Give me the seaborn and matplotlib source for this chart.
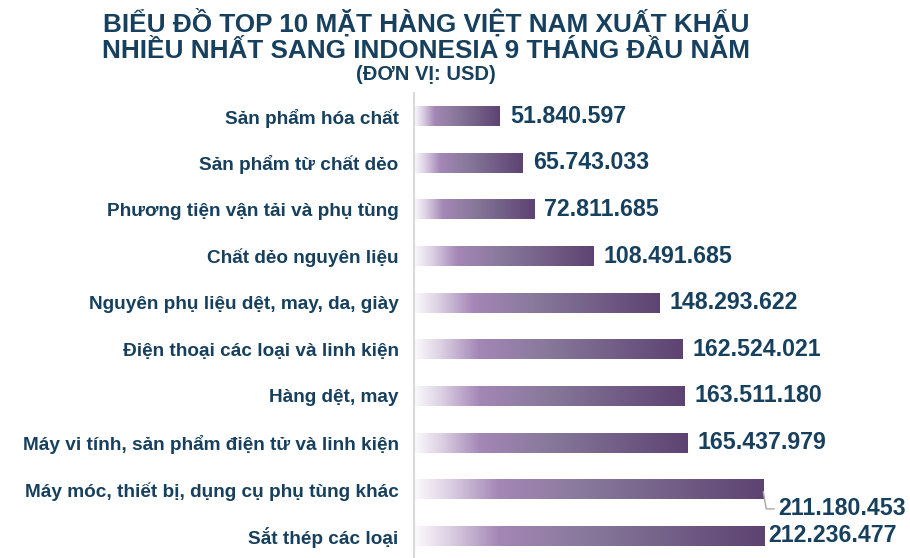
import numpy as np
import pandas as pd
import matplotlib
matplotlib.use("Agg")
import matplotlib.pyplot as plt
import seaborn as sns
from matplotlib.colors import LinearSegmentedColormap

categories = [
    "Sản phẩm hóa chất",
    "Sản phẩm từ chất dẻo",
    "Phương tiện vận tải và phụ tùng",
    "Chất dẻo nguyên liệu",
    "Nguyên phụ liệu dệt, may, da, giày",
    "Điện thoại các loại và linh kiện",
    "Hàng dệt, may",
    "Máy vi tính, sản phẩm điện tử và linh kiện",
    "Máy móc, thiết bị, dụng cụ phụ tùng khác",
    "Sắt thép các loại",
]
values = [51840597, 65743033, 72811685, 108491685, 148293622,
          162524021, 163511180, 165437979, 211180453, 212236477]
value_labels = ["51.840.597", "65.743.033", "72.811.685", "108.491.685", "148.293.622",
                "162.524.021", "163.511.180", "165.437.979", "211.180.453", "212.236.477"]
title_lines = ["BIỂU ĐỒ TOP 10 MẶT HÀNG VIỆT NAM XUẤT KHẨU",
               "NHIỀU NHẤT SANG INDONESIA 9 THÁNG ĐẦU NĂM"]
subtitle = "(ĐƠN VỊ: USD)"

df = pd.DataFrame({"cat": categories, "val": values})

sns.set_theme(style="white")
plt.rcParams["font.family"] = ["Liberation Sans", "DejaVu Sans"]

W, H = 910, 558
fig = plt.figure(figsize=(W / 100, H / 100), dpi=100)
ax_left, ax_right = 414, 910
ax_top, ax_bot = 92.7, 559.3
ax = fig.add_axes([ax_left / W, 1 - ax_bot / H, (ax_right - ax_left) / W, (ax_bot - ax_top) / H])

sns.barplot(data=df, y="cat", x="val", orient="h", ax=ax, width=0.43,
            color="#6a4f80", saturation=1)

xmax = 212236477 * (ax_right - ax_left) / (765 - ax_left)

cmap = LinearSegmentedColormap.from_list("g", [
    (0.0, "#fbfafc"), (0.10, "#dcd0e4"), (0.24, "#a487b6"),
    (0.50, "#87789a"), (1.0, "#5d4372")])
grad = np.linspace(0, 1, 256).reshape(1, -1)
for p in ax.patches:
    x0, y0 = p.get_x(), p.get_y()
    w, h = p.get_width(), p.get_height()
    im = ax.imshow(grad, cmap=cmap, aspect="auto", extent=(x0, x0 + w, y0 + h, y0),
                   zorder=2, interpolation="bicubic")
    im.set_clip_path(p)
    p.set_facecolor("none")
    p.set_edgecolor("none")
ax.set_xlim(0, xmax)
ax.set_ylim(9.5, -0.5)

label_col = "#17405e"
ax.set_xlabel("")
ax.set_ylabel("")
ax.set_xticks([])
ax.tick_params(axis="y", length=0, pad=11)
ax.set_yticks(range(len(categories)))
ax.set_yticklabels(categories, fontsize=13.7, fontweight="bold", color=label_col)

for s in ["top", "right", "bottom"]:
    ax.spines[s].set_visible(False)
ax.spines["left"].set_color("#d9d9d9")
ax.spines["left"].set_linewidth(1.5)

offset = xmax * 10 / (ax_right - ax_left)
for i, (v, lab) in enumerate(zip(values, value_labels)):
    if i == 8:
        x_end = v
        ax.plot([x_end, x_end + offset * 0.3, x_end + offset * 1.1],
                [i + 0.05, i + 0.42, i + 0.42], color="#a6a6a6", lw=1, zorder=3,
                clip_on=False)
        ax.text(x_end + offset * 1.5, i + 0.42, lab, va="center", ha="left",
                fontsize=16.7, fontweight="bold", color=label_col, clip_on=False)
    elif i == 9:
        ax.text(v + offset * 0.3, i, lab, va="center", ha="left",
                fontsize=16.7, fontweight="bold", color=label_col, clip_on=False)
    else:
        ax.text(v + offset, i, lab, va="center", ha="left",
                fontsize=16.7, fontweight="bold", color=label_col)

fig.text(426 / W, 1 - 22 / H, title_lines[0], ha="center", va="center",
         fontsize=18.8, fontweight="bold", color=label_col)
fig.text(426 / W, 1 - 51 / H, title_lines[1], ha="center", va="center",
         fontsize=18.8, fontweight="bold", color=label_col)
fig.text(426 / W, 1 - 75 / H, subtitle, ha="center", va="center",
         fontsize=14.5, fontweight="bold", color=label_col)

fig.savefig("out.png", dpi=100)
